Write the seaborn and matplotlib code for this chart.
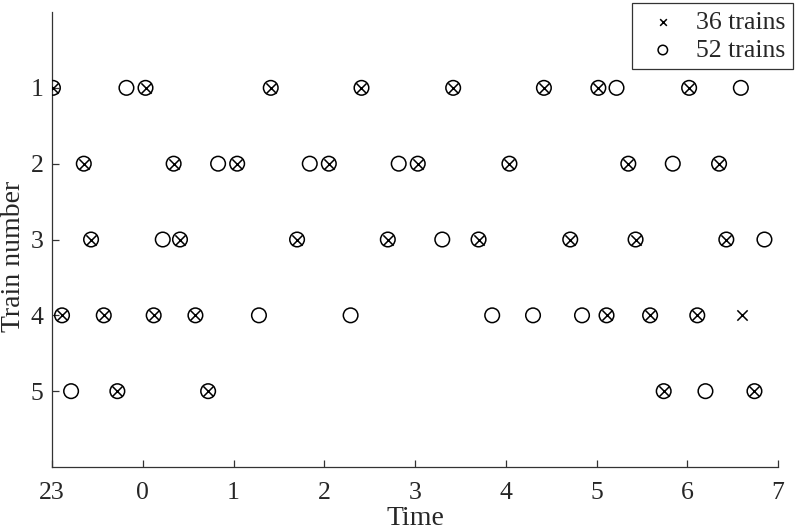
import pandas as pd
import matplotlib
matplotlib.use('Agg')
import matplotlib.pyplot as plt
import seaborn as sns

# Departure times (hours after midnight, 23:00 shown as -1) for each train
trains = [1, 2, 3, 4, 5]

times_36 = [
    [-0.99, 0.03, 1.41, 2.41, 3.42, 4.42, 5.02, 6.02],
    [-0.65, 0.34, 1.04, 2.05, 3.03, 4.04, 5.35, 6.35],
    [-0.57, 0.41, 1.70, 2.70, 3.70, 4.71, 5.43, 6.43],
    [-0.89, -0.43, 0.12, 0.58, 5.11, 5.59, 6.11, 6.60],
    [-0.28, 0.72, 5.74, 6.74],
]

times_52 = [
    [-0.99, -0.18, 0.03, 1.41, 2.41, 3.42, 4.42, 5.02, 5.22, 6.02, 6.59],
    [-0.65, 0.34, 0.83, 1.04, 1.84, 2.05, 2.82, 3.03, 4.04, 5.35, 5.84, 6.35],
    [-0.57, 0.22, 0.41, 1.70, 2.70, 3.30, 3.70, 4.71, 5.43, 6.43, 6.85],
    [-0.89, -0.43, 0.12, 0.58, 1.28, 2.29, 3.85, 4.30, 4.84, 5.11, 5.59, 6.11],
    [-0.79, -0.28, 0.72, 5.74, 6.20, 6.74],
]

x_ticks = [-1, 0, 1, 2, 3, 4, 5, 6, 7]
x_tick_labels = ['23', '0', '1', '2', '3', '4', '5', '6', '7']


def to_frame(times):
    rows = []
    for train, tlist in zip(trains, times):
        for t in tlist:
            rows.append({'Time': t, 'Train': train})
    return pd.DataFrame(rows)


df36 = to_frame(times_36)
df52 = to_frame(times_52)

sns.set_style('ticks')
plt.rcParams['font.family'] = ['Liberation Serif', 'DejaVu Serif']
plt.rcParams['xtick.direction'] = 'in'
plt.rcParams['ytick.direction'] = 'in'

fig = plt.figure(figsize=(7.98, 5.32), dpi=100)
ax = fig.add_axes([0.0652, 0.1222, 0.9098, 0.8552])

sns.scatterplot(data=df36, x='Time', y='Train', marker='x', s=55, color='black',
                linewidth=1.1, label='36 trains', ax=ax, zorder=3)
sns.scatterplot(data=df52, x='Time', y='Train', marker='o', s=110, facecolors='none',
                edgecolor='black', linewidth=1.1, label='52 trains', ax=ax, zorder=3)

ax.set_xlim(-1, 7)
ax.set_ylim(6, 0)
ax.set_xticks(x_ticks)
ax.set_xticklabels(x_tick_labels)
ax.set_yticks(trains)
ax.tick_params(labelsize=18.5, length=5, width=0.9, color='#333333')
ax.tick_params(axis='x', pad=11)
ax.tick_params(axis='y', pad=6)
ax.set_xlabel('Time', fontsize=20)
ax.set_ylabel('Train number', fontsize=20)
ax.xaxis.set_label_coords(0.5, -0.086)
ax.yaxis.set_label_coords(-0.036, 0.464)

sns.despine(ax=ax)
for side in ['left', 'bottom']:
    ax.spines[side].set_color('#333333')
    ax.spines[side].set_linewidth(0.9)

leg = ax.legend(loc='upper right', bbox_to_anchor=(1.021, 1.02), fontsize=18.5,
                frameon=True, fancybox=False, edgecolor='#333333', markerscale=0.65,
                handletextpad=0.4, handlelength=1.8, borderpad=0.3, labelspacing=0.2,
                borderaxespad=0)
leg.get_frame().set_linewidth(0.9)
leg.get_frame().set_alpha(1)

fig.savefig('out.png', dpi=100)
